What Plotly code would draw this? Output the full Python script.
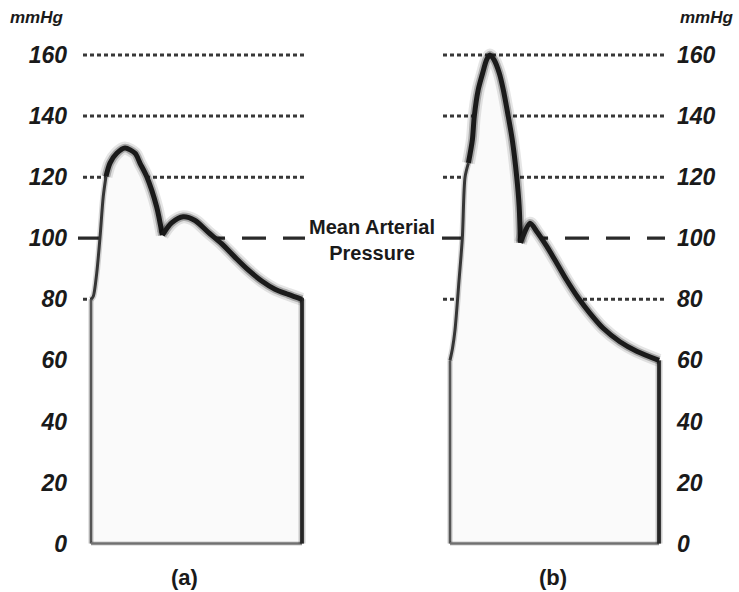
import plotly.graph_objects as go

# ---------------- data ----------------
# pressure ticks (mmHg)
y_ticks = [0, 20, 40, 60, 80, 100, 120, 140, 160]

# (a) waveform: time as % of the cardiac cycle, pressure in mmHg
a_rise_t = [0, 1.1, 2.7, 4.3, 5.8, 7.1]
a_rise_p = [80, 81, 88.5, 100.5, 113.6, 120.2]
a_sys_t = [7.1, 9.0, 12.2, 16.1, 20.9, 23.2, 26.4, 31.1, 33.8]
a_sys_p = [120.2, 124.6, 127.8, 129.5, 127.8, 124.6, 120.2, 110.3, 101]
a_dia_t = [33.8, 38.2, 43.7, 49.3, 55.5, 61.9, 68.2, 74.5, 80.9, 87.2, 93.5, 100]
a_dia_p = [101, 105, 107, 105.8, 102, 98.2, 93.8, 89.6, 86, 83.3, 81.6, 80]

# (b) waveform
b_rise_t = [0, 1.2, 2.4, 4.3, 5.9, 7.2, 8.8]
b_rise_p = [60, 64, 70, 86, 100, 120, 124.6]
b_sys_t = [8.8, 10.7, 11.6, 13.5, 15.6, 17.5, 19.1, 21.1, 23.6, 25.5, 27.9, 29.8, 31.9, 33.1, 33.7]
b_sys_p = [124.6, 132.2, 139.8, 148.6, 154, 158.4, 160, 158.4, 154, 148.6, 139.8, 132.2, 120.2, 110.3, 98.5]
b_dia_t = [33.7, 38.3, 41.5, 46.3, 51.1, 55.8, 61.4, 67.0, 73.3, 81.3, 89.3, 100]
b_dia_p = [98.5, 104.9, 102.2, 97.3, 91.8, 86.3, 80.4, 75.4, 70.5, 66.1, 63.0, 60]

# reference levels (mmHg)
dotted_levels = [80, 120, 140, 160]
mean_arterial = 100

panel_labels = ["(a)", "(b)"]

# ---------------- layout geometry ----------------
W, H = 739, 592
ML, MR = 68, 63
PW = W - ML - MR
DOM_A = [0.0, 0.5]
DOM_B = [0.5, 1.0]
Y_RANGE = [-15.85, 178.0]


def x_range(dom, left_px, right_px):
    d0 = ML + dom[0] * PW
    d1 = ML + dom[1] * PW
    s = (right_px - left_px) / 100.0
    return [-(left_px - d0) / s, 100 + (d1 - right_px) / s]


def px_to_t(px, left_px, right_px):
    return (px - left_px) / ((right_px - left_px) / 100.0)


BOX_A = (91, 302)
BOX_B = (450, 659)

INK = "#1a1a1a"
FILL = "#fafafa"
SMOOTH = 0.8

fig = go.Figure()


def add_line(xs, ys, ax, color, width, dash=None, shape="linear", fill=None):
    fig.add_trace(go.Scatter(
        x=xs, y=ys, mode="lines", xaxis=ax[0], yaxis=ax[1],
        line=dict(color=color, width=width, dash=dash, shape=shape, smoothing=SMOOTH),
        fill=fill, fillcolor=FILL if fill else None,
        hoverinfo="skip", showlegend=False,
    ))


def draw_panel(ax, box, rise, sys, dia, dash_span, dot_span):
    # reference lines, drawn first so the waveform area covers them
    t0, t1 = px_to_t(dot_span[0], *box), px_to_t(dot_span[1], *box)
    for lvl in dotted_levels:
        add_line([t0, t1], [lvl, lvl], ax, "#383838", 3, dash="4px,3px")
    m0, m1 = px_to_t(dash_span[0], *box), px_to_t(dash_span[1], *box)
    add_line([m0, m1], [mean_arterial, mean_arterial], ax, "#2a2a2a", 3.2, dash="24px,17px")

    # area under the pressure curve: one seamless polygon, then the smooth segments
    all_t = rise[0] + sys[0][1:] + dia[0][1:]
    all_p = rise[1] + sys[1][1:] + dia[1][1:]
    add_line(all_t, all_p, ax, "rgba(0,0,0,0)", 0, fill="tozeroy")
    for t, p in (rise, sys, dia):
        add_line(t, p, ax, "rgba(0,0,0,0)", 0, shape="spline", fill="tozeroy")

    # box edges: left side, baseline, right side
    start_p, end_p = rise[1][0], dia[1][-1]
    add_line([0, 0], [0, start_p], ax, "rgba(0,0,0,0.14)", 5.5)
    add_line([0, 0], [0, start_p], ax, "#555555", 2.6)
    add_line([0, 100], [0, 0], ax, "rgba(0,0,0,0.10)", 5)
    add_line([0, 100], [0, 0], ax, "#707070", 2.5)
    add_line([100, 100], [0, end_p], ax, "rgba(0,0,0,0.2)", 7)
    add_line([100, 100], [0, end_p], ax, "#262626", 3.8)

    # upstroke: thinner stroke
    add_line(rise[0], rise[1], ax, "rgba(0,0,0,0.16)", 6, shape="spline")
    add_line(rise[0], rise[1], ax, "#363636", 3, shape="spline")

    # systolic peak and diastolic run-off: heavy soft-edged stroke
    for t, p in (sys, dia):
        add_line(t, p, ax, "rgba(0,0,0,0.10)", 13, shape="spline")
        add_line(t, p, ax, "rgba(0,0,0,0.25)", 8.5, shape="spline")
        add_line(t, p, ax, INK, 5, shape="spline")


draw_panel(("x", "y"), BOX_A, (a_rise_t, a_rise_p), (a_sys_t, a_sys_p),
           (a_dia_t, a_dia_p), dash_span=(78, 305), dot_span=(83, 307))
draw_panel(("x2", "y2"), BOX_B, (b_rise_t, b_rise_p), (b_sys_t, b_sys_p),
           (b_dia_t, b_dia_p), dash_span=(442, 665), dot_span=(443, 665))

tick_font = dict(family="Liberation Sans", size=23, color=INK, weight="bold", style="italic")
hidden_x = dict(visible=False, showgrid=False, zeroline=False, fixedrange=True)
y_common = dict(range=Y_RANGE, tickmode="array", tickvals=y_ticks,
                ticktext=[str(v) for v in y_ticks], showgrid=False, zeroline=False,
                showline=False, ticks="", tickfont=tick_font, fixedrange=True)


def px_x(px):
    return (px - ML) / PW


def px_y(py):
    return 1 - py / H


def note(text, cx, cy, size, italic=False):
    return dict(text=text, x=px_x(cx), y=px_y(cy), xref="paper", yref="paper",
                xanchor="center", yanchor="middle", showarrow=False, align="center",
                font=dict(family="Liberation Sans", size=size, color=INK, weight="bold",
                          style="italic" if italic else "normal"))


annotations = [
    note("mmHg", 37, 18, 17, italic=True),
    note("mmHg", 707, 18, 17, italic=True),
    note("Mean Arterial<br>Pressure", 372, 240, 20),
]
for lab, cx in zip(panel_labels, (184, 553)):
    annotations.append(note(lab, cx, 577, 22))

fig.update_layout(
    width=W, height=H,
    margin=dict(l=ML, r=MR, t=0, b=0, pad=0),
    paper_bgcolor="white", plot_bgcolor="white",
    showlegend=False, hovermode=False,
    xaxis=dict(hidden_x, domain=DOM_A, range=x_range(DOM_A, *BOX_A)),
    xaxis2=dict(hidden_x, domain=DOM_B, range=x_range(DOM_B, *BOX_B)),
    yaxis=dict(y_common, anchor="x", side="left"),
    yaxis2=dict(y_common, anchor="x2", side="right"),
    annotations=annotations,
)

fig.write_html("out.html", config={"displayModeBar": False})
